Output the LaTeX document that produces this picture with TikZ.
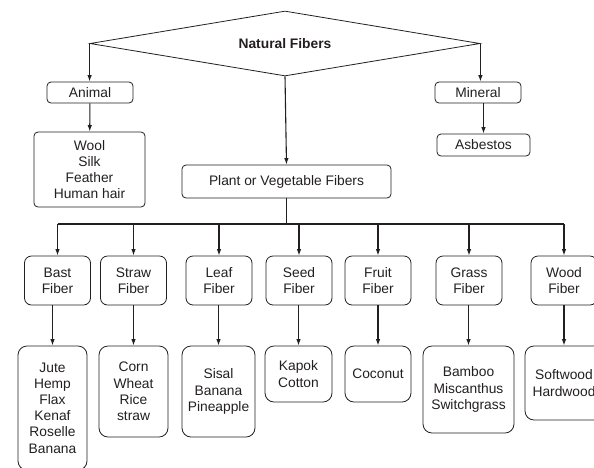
\documentclass[tikz,border=0pt]{standalone}
\usepackage{fontspec}
\setmainfont{Liberation Sans}
\usetikzlibrary{shapes.geometric, arrows.meta, positioning}
\definecolor{fibLine}{RGB}{35, 31, 32}
\newcommand{\fibfont}{\fontsize{13.8pt}{16.2pt}\selectfont}

\begin{document}
\begin{tikzpicture}[x=1pt, y=-1pt,
        box/.style={rectangle, draw=fibLine, rounded corners=4pt, line width=0.8pt, align=center, inner sep=0pt, font=\fibfont, text=fibLine},
        kind/.style={box, rounded corners=7pt, minimum width=66pt, minimum height=49pt},
        item/.style={box, rounded corners=9pt},
        arr/.style={-{Latex[length=6.5pt, width=4.5pt]}, line width=1.1pt, fibLine},
        wire/.style={line width=1.1pt, fibLine}
      ]
        \useasboundingbox (0,0) rectangle (594,467);
        \clip (0,0) rectangle (594,467);
        \node[diamond, draw=fibLine, line width=0.8pt, aspect=6, minimum width=390pt, minimum height=65pt, inner sep=0pt, font=\fibfont\bfseries, text=fibLine] (nat) at (285,43.5) {Natural Fibers};
        \node[box, minimum width=86pt, minimum height=21pt] (animal) at (90,92.5) {Animal};
        \node[box, minimum width=111pt, minimum height=75pt] (wool) at (89.5,169.5) {Wool\\Silk\\Feather\\Human hair};
        \node[box, minimum width=86pt, minimum height=21pt] (mineral) at (478,92.5) {Mineral};
        \node[box, minimum width=93pt, minimum height=22pt] (asb) at (483.5,145) {Asbestos};
        \node[box, minimum width=209pt, minimum height=33pt] (plant) at (286.5,181.5) {Plant or Vegetable Fibers};
        \coordinate (bus) at (286.5,224);
        \node[kind] (bast) at (57.5,280.5) {Bast\\Fiber};
        \node[kind] (straw) at (133.5,280.5) {Straw\\Fiber};
        \node[kind] (leaf) at (219,280.5) {Leaf\\Fiber};
        \node[kind] (seed) at (299,280.5) {Seed\\Fiber};
        \node[kind] (fruit) at (378,280.5) {Fruit\\Fiber};
        \node[kind] (grass) at (469,280.5) {Grass\\Fiber};
        \node[kind] (wood) at (564,280.5) {Wood\\Fiber};
        \node[item, minimum width=69pt, minimum height=124pt] (bastlist) at (52.5,408) {Jute\\Hemp\\Flax\\Kenaf\\Roselle\\Banana};
        \node[item, minimum width=69pt, minimum height=91pt] (strawlist) at (133.5,391.5) {Corn\\Wheat\\Rice\\straw};
        \node[item, minimum width=73pt, minimum height=91pt] (leaflist) at (218.5,391.5) {Sisal\\Banana\\Pineapple};
        \node[item, minimum width=67pt, minimum height=56pt] (seedlist) at (298.5,374) {Kapok\\Cotton};
        \node[item, minimum width=66pt, minimum height=56pt] (fruitlist) at (378,374) {Coconut};
        \node[item, minimum width=91pt, minimum height=87pt] (grasslist) at (468.5,389.5) {Bamboo\\Miscanthus\\Switchgrass};
        \node[item, minimum width=78pt, minimum height=74pt] (woodlist) at (564,383) {Softwood\\Hardwood};
        \draw[arr] (nat.west) -- (animal.north -| nat.west);
        \draw[arr] (animal) -- (wool);
        \draw[arr] (nat.east) -- (mineral.north -| nat.east);
        \draw[arr] (asb.north |- mineral.south) -- (asb.north);
        \draw[arr] (nat.south) -- (plant.north);
        \draw[wire] (plant.south) -- (bus);
        \draw[wire] (bast.north |- bus) -- (wood.north |- bus);
        \draw[arr] (bast.north |- bus) -- (bast.north);
        \draw[arr] (straw.north |- bus) -- (straw.north);
        \draw[arr] (leaf.north |- bus) -- (leaf.north);
        \draw[arr] (seed.north |- bus) -- (seed.north);
        \draw[arr] (fruit.north |- bus) -- (fruit.north);
        \draw[arr] (grass.north |- bus) -- (grass.north);
        \draw[arr] (wood.north |- bus) -- (wood.north);
        \draw[arr] (bastlist.north |- bast.south) -- (bastlist.north);
        \draw[arr] (strawlist.north |- straw.south) -- (strawlist.north);
        \draw[arr] (leaflist.north |- leaf.south) -- (leaflist.north);
        \draw[arr] (seedlist.north |- seed.south) -- (seedlist.north);
        \draw[arr] (fruitlist.north |- fruit.south) -- (fruitlist.north);
        \draw[arr] (grasslist.north |- grass.south) -- (grasslist.north);
        \draw[arr] (woodlist.north |- wood.south) -- (woodlist.north);
      \end{tikzpicture}
\end{document}
